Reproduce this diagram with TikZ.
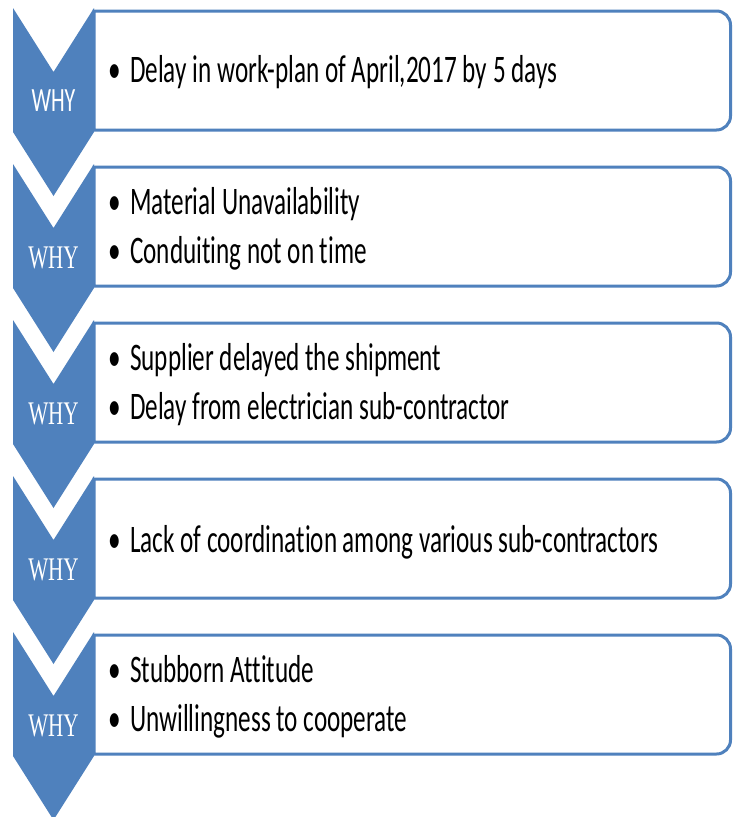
\documentclass[tikz,border=0pt]{standalone}
\usepackage{fontspec}
\setmainfont{Carlito}
\newfontfamily\bodyfont[FakeStretch=0.645,Ligatures={NoCommon}]{Carlito}
\newfontfamily\whyserif[FakeStretch=0.64]{Liberation Serif}
\definecolor{accent}{RGB}{79,129,189}
\tikzset{
  chev/.style={fill=accent, draw=none},
  panel/.style={draw=accent, line width=3pt, fill=white},
  itemtext/.style={anchor=base west, inner sep=0pt, text=black,
    font=\bodyfont\fontsize{39}{39}\selectfont},
  bulletmark/.style={anchor=base, inner sep=0pt, text=black,
    font=\bodyfont\fontsize{39}{39}\selectfont},
  whysans/.style={inner sep=0pt, text=white,
    font=\bodyfont\fontsize{34}{34}\selectfont},
  whyserifl/.style={inner sep=0pt, text=white,
    font=\whyserif\fontsize{33}{33}\selectfont}
}
\begin{document}
\begin{tikzpicture}[x=1pt,y=-1pt]
\useasboundingbox (0,0) rectangle (734,817);
\clip (0,0) rectangle (734,817);
\fill[white] (0,0) rectangle (734,817);
\foreach \k in {0,...,4}{
  \begin{scope}[shift={(0,{156*\k})}]
    \draw[panel] (94,11) -- (716.5,11) arc[start angle=-90, end angle=0, radius=14]
      -- (730.5,116) arc[start angle=0, end angle=90, radius=14] -- (94,130) -- cycle;
    \fill[chev] (13,8) -- (53.5,72) -- (94,8) -- (94,132) -- (53.5,196) -- (13,132) -- cycle;
  \end{scope}
}
% row 1
\node[whysans] (w1) at (53.5,101) {WHY};
\node[bulletmark] (b1a) at (115,82) {•};
\node[itemtext] (t1a) at (130,82) {Delay in work-plan of April,2017 by 5 days};
% row 2
\node[whyserifl] (w2) at (53.5,257.5) {WHY};
\node[bulletmark] (b2a) at (115,214.5) {•};
\node[itemtext] (t2a) at (130,214.5) {Material Unavailability};
\node[bulletmark] (b2b) at (115,263) {•};
\node[itemtext] (t2b) at (130,263) {Conduiting not on time};
% row 3
\node[whyserifl] (w3) at (53.5,413.5) {WHY};
\node[bulletmark] (b3a) at (115,370.5) {•};
\node[itemtext] (t3a) at (130,370.5) {Supplier delayed the shipment};
\node[bulletmark] (b3b) at (115,419) {•};
\node[itemtext] (t3b) at (130,419) {Delay from electrician sub-contractor};
% row 4
\node[whyserifl] (w4) at (53.5,569.5) {WHY};
\node[bulletmark] (b4a) at (115,552) {•};
\node[itemtext] (t4a) at (130,552) {Lack of coordination among various sub-contractors};
% row 5
\node[whyserifl] (w5) at (53.5,725.5) {WHY};
\node[bulletmark] (b5a) at (115,682.5) {•};
\node[itemtext] (t5a) at (130,682.5) {Stubborn Attitude};
\node[bulletmark] (b5b) at (115,731) {•};
\node[itemtext] (t5b) at (130,731) {Unwillingness to cooperate};
\end{tikzpicture}
\end{document}
